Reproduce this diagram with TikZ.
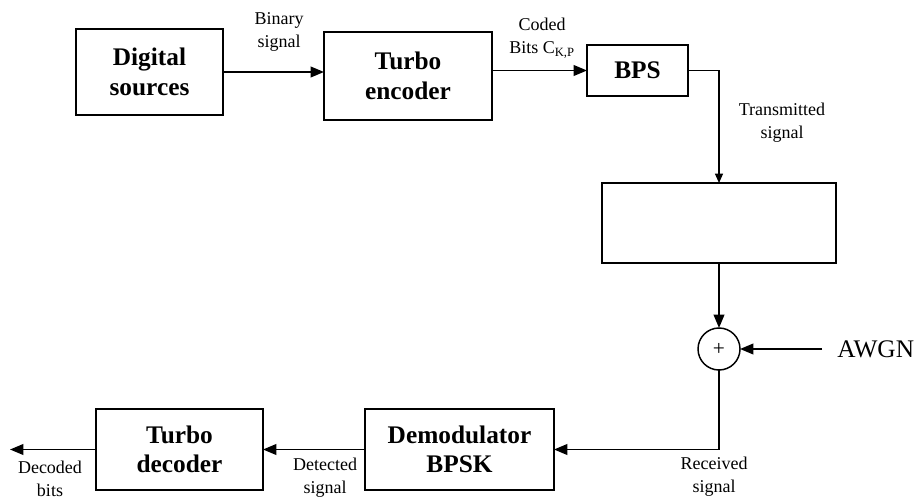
\documentclass[tikz,border=0pt]{standalone}
\usepackage{fontspec}
\setmainfont{Liberation Serif}
\usetikzlibrary{arrows.meta}
\begin{document}
\begin{tikzpicture}[x=0.75pt,y=-0.75pt,
  blk/.style={draw, line width=1.1pt, inner sep=0pt, outer sep=0pt, align=center,
    font=\fontsize{19}{22}\selectfont\bfseries},
  lbl/.style={inner sep=0pt, align=center, font=\fontsize{13.5}{17}\selectfont},
  conn/.style={line width=1.3pt, -{Triangle[length=10pt,width=8pt]}},
  thinconn/.style={line width=0.9pt, -{Triangle[length=7pt,width=6pt]}}]
\useasboundingbox (0,0) rectangle (919,502);
% blocks
\node[blk, minimum width=110.25pt, minimum height=64.5pt] (ds) at (149.5,72) {Digital\\sources};
\node[blk, minimum width=126pt, minimum height=66pt] (te) at (408,76) {Turbo\\encoder};
\node[blk, minimum width=75.75pt, minimum height=38.25pt] (bps) at (637.5,70.5) {BPS};
\node[blk, minimum width=175.5pt, minimum height=60pt] (ch) at (719,223) {};
\node[draw, circle, line width=1.1pt, inner sep=0pt, outer sep=0pt, minimum size=31.5pt,
  font=\fontsize{16}{16}\selectfont] (sum) at (719,349) {+};
\node[blk, minimum width=141.75pt, minimum height=60.75pt] (dem) at (459.5,449.5) {Demodulator\\BPSK};
\node[blk, minimum width=125.25pt, minimum height=60.75pt] (td) at (179.5,449.5) {Turbo\\decoder};
% labels
\node[lbl] (lbin) at (279,32) {Binary\\signal};
\node[lbl] (lcod) at (542,38) {Coded\\Bits C\textsubscript{K,P}};
\node[lbl] (ltx) at (782,123) {Transmitted\\signal};
\node[inner sep=0pt, anchor=west, font=\fontsize{19}{22}\selectfont] (awgn) at (837,349) {AWGN};
\node[lbl] (lrx) at (714,477) {Received\\signal};
\node[lbl] (ldet) at (325,478) {Detected\\signal};
\node[lbl] (ldec) at (50,479) {Decoded\\bits};
\coordinate (out) at (10,449.5);
\coordinate (awgnin) at (822,349);
% connectors
\draw[conn] (ds.east |- 0,72) -- (te.west |- 0,72);
\draw[conn] (te.east |- bps.west) -- (bps.west);
\draw[thinconn] (bps.east) -| (ch.north);
\draw[conn] (ch.south) -- (sum.north);
\draw[conn] (awgnin) -- (sum.east);
\draw[conn] (sum.south) |- (dem.east);
\draw[conn] (dem.west) -- (td.east);
\draw[conn] (td.west) -- (out);
\end{tikzpicture}
\end{document}
